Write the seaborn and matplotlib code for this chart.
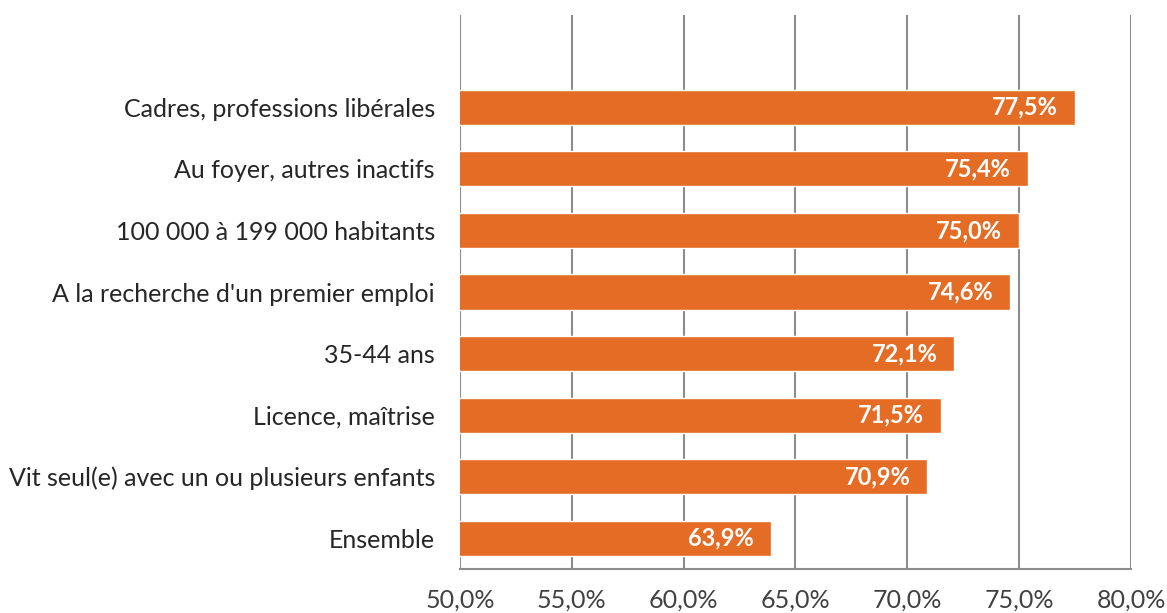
import matplotlib
matplotlib.use("Agg")
import matplotlib.pyplot as plt
import seaborn as sns
import pandas as pd

categories = [
    "Cadres, professions libérales",
    "Au foyer, autres inactifs",
    "100 000 à 199 000 habitants",
    "A la recherche d'un premier emploi",
    "35-44 ans",
    "Licence, maîtrise",
    "Vit seul(e) avec un ou plusieurs enfants",
    "Ensemble",
]
values = [77.5, 75.4, 75.0, 74.6, 72.1, 71.5, 70.9, 63.9]
x_ticks = [50, 55, 60, 65, 70, 75, 80]

df = pd.DataFrame({"categorie": categories, "valeur": values})

sns.set_theme(style="white")
plt.rcParams["font.family"] = ["Lato", "DejaVu Sans"]

fig = plt.figure(figsize=(11.67, 6.13), dpi=100)
ax = fig.add_axes([460 / 1167, 1 - 569 / 613, (1131 - 460) / 1167, (569 - 15) / 613])

bar_color = "#E46C24"
sns.barplot(data=df, x="valeur", y="categorie", orient="h", color=bar_color,
            saturation=1, width=0.57, ax=ax, zorder=3)

ax.set_xlim(50, 80)
ax.set_ylim(7.5, -1.5)
ax.set_xticks(x_ticks)
ax.set_xticklabels([f"{t:.1f}%".replace(".", ",") for t in x_ticks],
                   fontsize=18, color="#404040")
ax.tick_params(axis="x", length=0, pad=14)
ax.tick_params(axis="y", length=0, pad=18, labelsize=18, labelcolor="#262626")
ax.set_xlabel("")
ax.set_ylabel("")

ax.grid(axis="x", color="#8C8C8C", linewidth=1.5, zorder=0)
ax.grid(axis="y", visible=False)
for side in ["top", "right", "left"]:
    ax.spines[side].set_visible(False)
ax.spines["bottom"].set_color("#8C8C8C")
ax.spines["bottom"].set_linewidth(1.5)

for i, v in enumerate(values):
    ax.text(v - 0.76, i, f"{v:.1f}%".replace(".", ","), ha="right", va="center",
            color="white", fontsize=17, fontweight="bold", zorder=4)

fig.savefig("out.png", dpi=100)
